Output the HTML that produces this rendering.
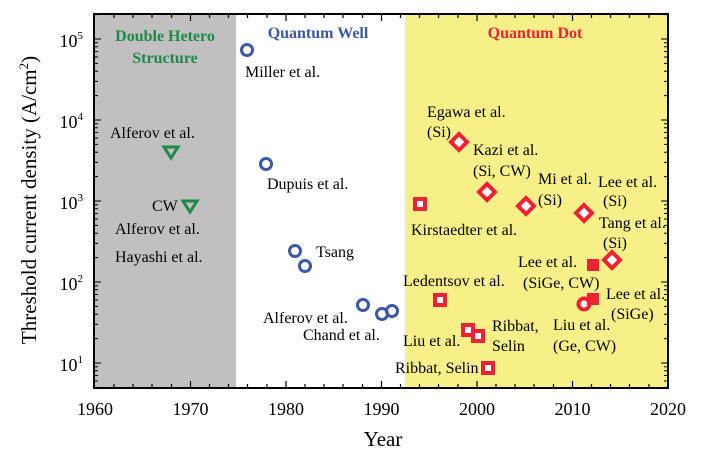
<!DOCTYPE html>
<html><head><meta charset="utf-8"><style>
body{margin:0;background:#fff}
</style></head><body>
<svg width="701" height="453" viewBox="0 0 701 453" xmlns="http://www.w3.org/2000/svg" font-family="'Liberation Serif', 'DejaVu Serif', serif">
<rect x="94" y="14" width="142" height="374" fill="#c1bfbf"/>
<rect x="405" y="14" width="263" height="374" fill="#f7ef87"/>
<g stroke="#000" stroke-width="1.2">
<path d="M190.5,388v-7M286,388v-7M381.5,388v-7M477,388v-7M572.5,388v-7M190.5,14v7M286,14v7M381.5,14v7M477,14v7M572.5,14v7"/>
<path d="M114,388v-4M133,388v-4M152,388v-4M171.5,388v-4M209.5,388v-4M228.5,388v-4M247.5,388v-4M267,388v-4M305,388v-4M324,388v-4M343,388v-4M362.5,388v-4M400.5,388v-4M419.5,388v-4M438.5,388v-4M458,388v-4M496,388v-4M515,388v-4M534,388v-4M553.5,388v-4M591.5,388v-4M610.5,388v-4M629.5,388v-4M649,388v-4M114,14v4M133,14v4M152,14v4M171.5,14v4M209.5,14v4M228.5,14v4M247.5,14v4M267,14v4M305,14v4M324,14v4M343,14v4M362.5,14v4M400.5,14v4M419.5,14v4M438.5,14v4M458,14v4M496,14v4M515,14v4M534,14v4M553.5,14v4M591.5,14v4M610.5,14v4M629.5,14v4M649,14v4"/>
</g>
<g stroke="#000" stroke-width="1" id="yt"></g>
<rect x="94" y="14" width="574" height="374" fill="none" stroke="#000" stroke-width="2"/>
<g font-size="18" text-anchor="middle" fill="#000">
<text x="95" y="415">1960</text><text x="190.5" y="415">1970</text><text x="286" y="415">1980</text><text x="381.5" y="415">1990</text><text x="477" y="415">2000</text><text x="572.5" y="415">2010</text><text x="668" y="415">2020</text>
<text x="383" y="446" font-size="21">Year</text>
</g>
<g font-size="18" fill="#000" text-anchor="end">
<text x="83" y="47">10<tspan font-size="11" dy="-8">5</tspan></text>
<text x="83" y="128">10<tspan font-size="11" dy="-8">4</tspan></text>
<text x="83" y="209">10<tspan font-size="11" dy="-8">3</tspan></text>
<text x="83" y="290">10<tspan font-size="11" dy="-8">2</tspan></text>
<text x="83" y="371">10<tspan font-size="11" dy="-8">1</tspan></text>
</g>
<text transform="translate(36,200) rotate(-90)" font-size="21" text-anchor="middle">Threshold current density (A/cm<tspan font-size="13" dy="-8">2</tspan><tspan dy="8">)</tspan></text>
<g font-weight="bold" font-size="16" text-anchor="middle">
<text x="165" y="41" fill="#1e8a4a">Double Hetero</text>
<text x="165" y="63" fill="#1e8a4a">Structure</text>
<text x="318" y="38" fill="#3c56a8">Quantum Well</text>
<text x="535" y="38" fill="#ee2233">Quantum Dot</text>
</g>
<g fill="none" stroke="#1e8a4a" stroke-width="3">
<path d="M164,147h14l-7,11z"/><path d="M183,201h14l-7,11z"/>
</g>
<g fill="none" stroke="#3c56a8" stroke-width="3">
<circle cx="247" cy="50" r="5.5"/><circle cx="266" cy="164" r="5.5"/><circle cx="295" cy="251" r="5.5"/><circle cx="305" cy="266" r="5.5"/><circle cx="363" cy="305" r="5.5"/><circle cx="382" cy="314" r="5.5"/><circle cx="392" cy="311" r="5.5"/>
</g>
<g fill="#fff" stroke="#ee2233" stroke-width="4">
<rect x="415" y="199" width="10" height="10"/><rect x="435" y="295" width="10" height="10"/><rect x="463" y="325" width="10" height="10"/><rect x="473" y="331" width="10" height="10"/><rect x="483" y="363" width="10" height="10"/>
<path d="M459,134l8,8l-8,8l-8,-8z"/><path d="M487,184l8,8l-8,8l-8,-8z"/><path d="M526,198l8,8l-8,8l-8,-8z"/><path d="M584,205l8,8l-8,8l-8,-8z"/><path d="M612,252l8,8l-8,8l-8,-8z"/>
<circle cx="584" cy="304" r="5.5"/>
</g>
<g fill="#ee2233"><rect x="587" y="259" width="12" height="12"/><rect x="587" y="293" width="12" height="12"/></g>
<g font-size="16" fill="#000">
<text x="110" y="138">Alferov et al.</text>
<text x="152" y="211">CW</text>
<text x="115" y="234">Alferov et al.</text>
<text x="115" y="262">Hayashi et al.</text>
<text x="245" y="77">Miller et al.</text>
<text x="267" y="189">Dupuis et al.</text>
<text x="316" y="257">Tsang</text>
<text x="263" y="323">Alferov et al.</text>
<text x="303" y="340">Chand et al.</text>
<text x="427" y="117">Egawa et al.</text>
<text x="427" y="137">(Si)</text>
<text x="473" y="155">Kazi et al.</text>
<text x="473" y="176">(Si, CW)</text>
<text x="538" y="184">Mi et al.</text>
<text x="538" y="205">(Si)</text>
<text x="598" y="187">Lee et al.</text>
<text x="603" y="206">(Si)</text>
<text x="599" y="228">Tang et al.</text>
<text x="603" y="248">(Si)</text>
<text x="411" y="235">Kirstaedter et al.</text>
<text x="518" y="267">Lee et al.</text>
<text x="523" y="288">(SiGe, CW)</text>
<text x="403" y="286">Ledentsov et al.</text>
<text x="606" y="299">Lee et al.</text>
<text x="611" y="319">(SiGe)</text>
<text x="553" y="330">Liu et al.</text>
<text x="553" y="351">(Ge, CW)</text>
<text x="403" y="346">Liu et al.</text>
<text x="492" y="331">Ribbat,</text>
<text x="492" y="351">Selin</text>
<text x="395" y="373">Ribbat, Selin</text>
</g>
</svg>
<script>
var g=document.getElementById('yt'),d='';
for(var e=0;e<5;e++){var base=363-81*e;for(var m=1;m<10;m++){var y=base-81*Math.log10(m);if(y<14)continue;var L=m==1?7:4;d+='M94,'+y.toFixed(1)+'h'+L+'M668,'+y.toFixed(1)+'h-'+L;}}
for(var m=5;m<10;m++){var y=444-81*Math.log10(m);d+='M94,'+y.toFixed(1)+'h4M668,'+y.toFixed(1)+'h-4';}
var p=document.createElementNS('http://www.w3.org/2000/svg','path');p.setAttribute('d',d);g.appendChild(p);
</script>
</body></html>
